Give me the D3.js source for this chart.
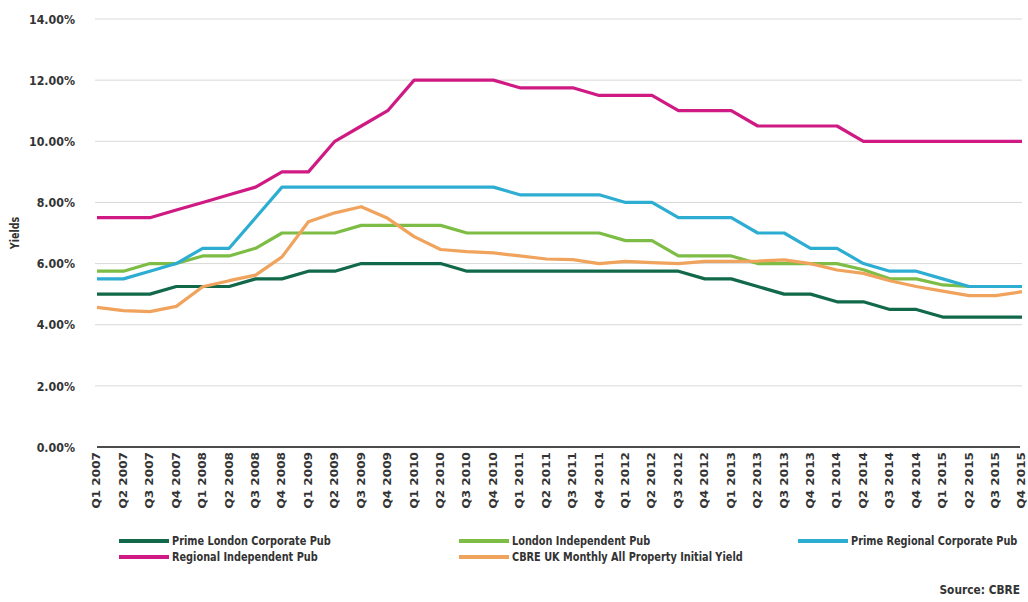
<!DOCTYPE html>
<html>
<head>
<meta charset="utf-8">
<script src="https://cdn.jsdelivr.net/npm/d3@7"></script>
<style>
  body { margin: 0; background: #fff; }
  text { font-family: "DejaVu Sans", sans-serif; fill: #333; }
</style>
</head>
<body>
<svg id="chart"></svg>
<script>
const quarters = [];
['2007','2008','2009','2010','2011','2012','2013','2014','2015'].forEach(yr => {
  ['Q1','Q2','Q3','Q4'].forEach(q => quarters.push(q + ' ' + yr));
});

const primeLondonCorporate = [5.0,5.0,5.0,5.25,5.25,5.25,5.5,5.5,5.75,5.75,6.0,6.0,6.0,6.0,5.75,5.75,5.75,5.75,5.75,5.75,5.75,5.75,5.75,5.5,5.5,5.25,5.0,5.0,4.75,4.75,4.5,4.5,4.25,4.25,4.25,4.25];
const londonIndependent = [5.75,5.75,6.0,6.0,6.25,6.25,6.5,7.0,7.0,7.0,7.25,7.25,7.25,7.25,7.0,7.0,7.0,7.0,7.0,7.0,6.75,6.75,6.25,6.25,6.25,6.0,6.0,6.0,6.0,5.8,5.5,5.5,5.3,5.25,5.25,5.25];
const primeRegionalCorporate = [5.5,5.5,5.75,6.0,6.5,6.5,7.5,8.5,8.5,8.5,8.5,8.5,8.5,8.5,8.5,8.5,8.25,8.25,8.25,8.25,8.0,8.0,7.5,7.5,7.5,7.0,7.0,6.5,6.5,6.0,5.75,5.75,5.5,5.25,5.25,5.25];
const regionalIndependent = [7.5,7.5,7.5,7.75,8.0,8.25,8.5,9.0,9.0,10.0,10.5,11.0,12.0,12.0,12.0,12.0,11.75,11.75,11.75,11.5,11.5,11.5,11.0,11.0,11.0,10.5,10.5,10.5,10.5,10.0,10.0,10.0,10.0,10.0,10.0,10.0];
const cbreAllProperty = [4.57,4.46,4.43,4.6,5.24,5.44,5.62,6.22,7.37,7.66,7.86,7.48,6.88,6.46,6.39,6.35,6.25,6.15,6.13,6.0,6.07,6.03,6.0,6.07,6.07,6.08,6.12,6.0,5.79,5.68,5.44,5.25,5.1,4.95,4.95,5.08];

const yTicks = [0,2,4,6,8,10,12,14];

const series = [
  { name: 'Prime London Corporate Pub', values: primeLondonCorporate, color: '#11694a' },
  { name: 'London Independent Pub', values: londonIndependent, color: '#7dbd45' },
  { name: 'Prime Regional Corporate Pub', values: primeRegionalCorporate, color: '#2eadd3' },
  { name: 'Regional Independent Pub', values: regionalIndependent, color: '#cf1a84' },
  { name: 'CBRE UK Monthly All Property Initial Yield', values: cbreAllProperty, color: '#f0a35c' }
];

const width = 1028;
const height = 602;
const margin = { top: 19, right: 6, bottom: 155, left: 97 };

const svg = d3.select('#chart').attr('width', width).attr('height', height);

// squeeze/stretch text along its baseline to mimic the condensed font
function fit(sel, ratio) {
  sel.each(function () {
    const w = this.getComputedTextLength();
    d3.select(this).attr('textLength', w * ratio).attr('lengthAdjust', 'spacingAndGlyphs');
  });
}

const x = d3.scalePoint()
  .domain(quarters)
  .range([margin.left, width - margin.right]);

const y = d3.scaleLinear()
  .domain([0, 14])
  .range([height - margin.bottom, margin.top]);

// gridlines
svg.append('g')
  .selectAll('line')
  .data(yTicks.filter(d => d > 0))
  .join('line')
  .attr('x1', margin.left - 2)
  .attr('x2', width - margin.right)
  .attr('y1', d => y(d))
  .attr('y2', d => y(d))
  .attr('stroke', '#d9d9d9')
  .attr('stroke-width', 1);

// y axis labels
const yAxis = svg.append('g')
  .attr('transform', `translate(${margin.left - 19},0)`)
  .call(d3.axisLeft(y).tickValues(yTicks).tickSize(0).tickFormat(d => d.toFixed(2) + '%'));
yAxis.select('.domain').remove();
yAxis.selectAll('text').style('font-size', '13px').style('font-weight', 'bold').attr('fill', '#3a3a3a')
  .call(fit, 0.85);

svg.append('text')
  .attr('transform', `translate(19,${y(7)}) rotate(-90)`)
  .attr('text-anchor', 'middle')
  .style('font-size', '12px')
  .style('font-weight', 'bold')
  .text('Yields')
  .call(fit, 0.8);

// x axis
const xAxis = svg.append('g')
  .attr('transform', `translate(0,${y(0)})`)
  .call(d3.axisBottom(x).tickSize(0).tickPadding(0));
xAxis.select('.domain').attr('stroke', '#111').attr('stroke-width', 1.5)
  .attr('d', `M${margin.left},0H${width - margin.right - 2}`);
xAxis.selectAll('text')
  .attr('transform', 'rotate(-90)')
  .attr('text-anchor', 'end')
  .attr('x', -5)
  .attr('y', -1)
  .attr('dy', '0.35em')
  .style('font-size', '11px')
  .style('font-weight', 'bold')
  .attr('fill', '#2a2a2a')
  .call(fit, 1.1);

// lines
const line = d3.line()
  .x((d, i) => x(quarters[i]))
  .y(d => y(d));

svg.append('g')
  .selectAll('path')
  .data(series)
  .join('path')
  .attr('fill', 'none')
  .attr('stroke', d => d.color)
  .attr('stroke-width', 3.2)
  .attr('stroke-linejoin', 'round')
  .attr('d', d => line(d.values));

// legend
const legendPos = [[119, 541], [459, 541], [798, 541], [119, 557], [459, 557]];
const legend = svg.append('g')
  .selectAll('g')
  .data(series)
  .join('g')
  .attr('transform', (d, i) => `translate(${legendPos[i][0]},${legendPos[i][1]})`);
legend.append('line')
  .attr('x1', 0).attr('x2', 50)
  .attr('stroke', d => d.color)
  .attr('stroke-width', 4);
legend.append('text')
  .attr('x', 53)
  .attr('dy', '0.35em')
  .style('font-size', '12.5px')
  .style('font-weight', 'bold')
  .text(d => d.name)
  .call(fit, 0.78);

svg.append('text')
  .attr('x', width - 8)
  .attr('y', 594)
  .attr('text-anchor', 'end')
  .style('font-size', '12.5px')
  .style('font-weight', 'bold')
  .text('Source: CBRE')
  .call(fit, 0.85);
</script>
</body>
</html>
